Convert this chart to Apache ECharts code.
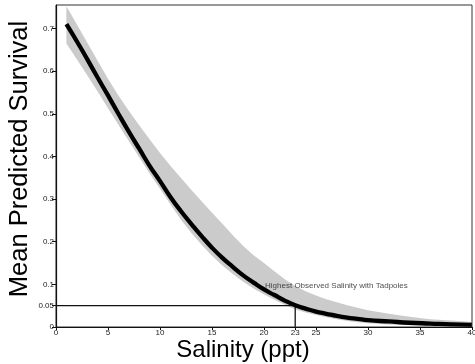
<!DOCTYPE html>
<html>
<head>
<meta charset="utf-8">
<script src="https://cdn.jsdelivr.net/npm/echarts@6/dist/echarts.min.js"></script>
<style>html,body{margin:0;padding:0;background:#fff}#c{width:475px;height:364px}</style>
</head>
<body>
<div id="c"></div>
<script>
// Salinity (ppt) values at which the curve was read
const salinity = [1,2,3,4,5,6,7,8,9,10,11,12,13,14,15,16,17,18,19,20,21,22,23,24,25,26,27,28,29,30,32,34,36,38,40];
// Mean predicted survival
const survival = [0.71,0.67,0.628,0.585,0.543,0.50,0.458,0.418,0.378,0.342,0.305,0.272,0.242,0.213,0.186,0.162,0.141,0.121,0.104,0.088,0.075,0.062,0.051,0.043,0.036,0.031,0.026,0.022,0.019,0.016,0.013,0.010,0.008,0.006,0.005];
// Confidence band
const lowerCI = [0.665,0.628,0.59,0.552,0.513,0.474,0.436,0.398,0.36,0.324,0.288,0.252,0.221,0.193,0.167,0.144,0.124,0.106,0.09,0.076,0.064,0.052,0.041,0.034,0.028,0.023,0.018,0.014,0.011,0.009,0.006,0.004,0.003,0.002,0.001];
const upperCI = [0.752,0.71,0.667,0.624,0.582,0.543,0.507,0.473,0.44,0.408,0.378,0.35,0.322,0.295,0.268,0.242,0.215,0.19,0.168,0.15,0.131,0.112,0.096,0.084,0.074,0.065,0.058,0.051,0.045,0.039,0.031,0.024,0.018,0.015,0.012];
// Tick labels
const xTicks = [0,5,10,15,20,23,25,30,35,40];
const yTicks = [0,0.05,0.1,0.2,0.3,0.4,0.5,0.6,0.7];
// Reference: highest observed salinity with tadpoles
const thresholdSalinity = 23;
const thresholdSurvival = 0.05;
const annotationText = 'Highest Observed Salinity with Tadpoles';
const annotationPos = [20.1, 0.097];

const font = 'Liberation Sans, Arial, Helvetica, sans-serif';
const chart = echarts.init(document.getElementById('c'));
chart.setOption({
  animation: false,
  grid: {left: 56, top: 5, right: 3, bottom: 37, outerBoundsMode: 'none', containLabel: false,
         show: true, borderColor: '#333', borderWidth: 1, z: 10},
  xAxis: {
    type: 'value', min: 0, max: 40, z: 10,
    name: 'Salinity (ppt)', nameLocation: 'middle', nameGap: 11, nameMoveOverlap: false,
    nameTextStyle: {fontFamily: font, fontSize: 24, color: '#000', padding: [0, 42, 0, 0]},
    axisLine: {show: true, lineStyle: {color: '#111', width: 1.2}},
    axisTick: {show: true, length: 3, lineStyle: {color: '#111'}, customValues: xTicks},
    axisLabel: {customValues: xTicks, fontFamily: font, fontSize: 8, color: '#222', margin: 2},
    splitLine: {show: false}
  },
  yAxis: {
    type: 'value', min: 0, max: 0.755, z: 10,
    name: 'Mean Predicted Survival', nameLocation: 'middle', nameGap: 23, nameMoveOverlap: false,
    nameTextStyle: {fontFamily: font, fontSize: 25.5, color: '#000', padding: [0, 0, 0, 14]},
    axisLine: {show: true, lineStyle: {color: '#111', width: 1.2}},
    axisTick: {show: true, length: 4, lineStyle: {color: '#111'}, customValues: yTicks},
    axisLabel: {customValues: yTicks, fontFamily: font, fontSize: 8, color: '#222', margin: 2},
    splitLine: {show: false}
  },
  series: [
    {type: 'custom', silent: true, z: 1,
     data: [[salinity[0], upperCI[0]]],
     renderItem: function (params, api) {
       const pts = [];
       for (let i = 0; i < salinity.length; i++) pts.push(api.coord([salinity[i], upperCI[i]]));
       for (let i = salinity.length - 1; i >= 0; i--) pts.push(api.coord([salinity[i], lowerCI[i]]));
       return {type: 'polygon', shape: {points: pts}, style: {fill: '#cbcbcb', stroke: null}};
     }},
    {type: 'line', symbol: 'none', silent: true, z: 4,
     lineStyle: {color: '#111', width: 1.3},
     data: [[0, thresholdSurvival], [thresholdSalinity, thresholdSurvival], [thresholdSalinity, 0]]},
    {type: 'line', smooth: true, symbol: 'none', silent: true, z: 5,
     lineStyle: {color: '#000', width: 4.3},
     data: salinity.map((x, i) => [x, survival[i]])},
    {type: 'scatter', symbolSize: 0, silent: true, z: 6,
     label: {show: true, position: 'right', distance: 0, formatter: annotationText,
             fontFamily: font, fontSize: 8, color: '#222'},
     data: [annotationPos]}
  ]
});
</script>
</body>
</html>
